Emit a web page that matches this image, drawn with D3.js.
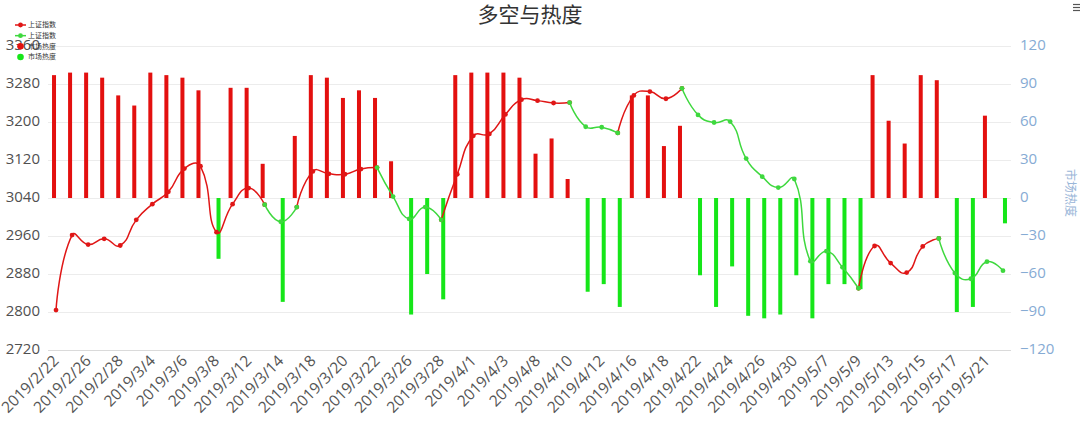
<!DOCTYPE html>
<html>
<head>
<meta charset="utf-8">
<script src="https://cdn.jsdelivr.net/npm/d3@7"></script>
<style>
  html, body { margin: 0; padding: 0; background: #fff; }
  svg { display: block; }
</style>
</head>
<body>
<svg id="chart" width="1080" height="425"></svg>
<script>
// ---------------- data ----------------
const dates = ["2019/2/22","2019/2/25","2019/2/26","2019/2/27","2019/2/28","2019/3/1","2019/3/4","2019/3/5","2019/3/6","2019/3/7",
  "2019/3/8","2019/3/11","2019/3/12","2019/3/13","2019/3/14","2019/3/15","2019/3/18","2019/3/19","2019/3/20","2019/3/21",
  "2019/3/22","2019/3/25","2019/3/26","2019/3/27","2019/3/28","2019/3/29","2019/4/1","2019/4/2","2019/4/3","2019/4/4",
  "2019/4/8","2019/4/9","2019/4/10","2019/4/11","2019/4/12","2019/4/15","2019/4/16","2019/4/17","2019/4/18","2019/4/19",
  "2019/4/22","2019/4/23","2019/4/24","2019/4/25","2019/4/26","2019/4/29","2019/4/30","2019/5/6","2019/5/7","2019/5/8",
  "2019/5/9","2019/5/10","2019/5/13","2019/5/14","2019/5/15","2019/5/16","2019/5/17","2019/5/20","2019/5/21","2019/5/22"];

// 上证指数 (red part / green part, null = gap)
const indexRed = [2804,2962,2942,2954,2940,2994,3027,3053,3102,3107,
  2968,3027,3061,3026,null,3021,3096,3091,3090,3101,
  3104,null,null,null,2994,3090,3171,3175,3216,3247,
  3245,3240,3241,null,null,3177,3256,3264,3249,3271,
  null,null,null,null,null,null,null,null,null,null,
  2850,2939,2903,2883,2938,2955,null,null,null,null];
const indexGreen = [null,null,null,null,null,null,null,null,null,null,
  null,null,null,3026,2990,3021,null,null,null,null,
  3104,3043,2996,3021,2994,null,null,null,null,null,
  null,null,3241,3190,3189,3177,null,null,null,3271,
  3215,3199,3201,3123,3085,3062,3080,2907,2928,2894,
  2850,null,null,null,null,2955,2882,2870,2906,2887];

// 市场热度 (positive = red bars, negative = green bars)
const heatUp = [97,99,99,95,81,73,99,97,95,85,
  null,87,87,27,null,49,97,95,79,85,
  79,29,null,null,null,97,99,99,99,95,
  35,47,15,null,null,null,81,81,41,57,
  null,null,null,null,null,null,null,null,null,null,
  null,97,61,43,97,93,null,null,65,null];
const heatDown = [null,null,null,null,null,null,null,null,null,null,
  -48,null,null,null,-82,null,null,null,null,null,
  null,null,-92,-60,-80,null,null,null,null,null,
  null,null,null,-74,-68,-86,null,null,null,null,
  -61,-86,-54,-93,-95,-92,-61,-95,-68,-68,
  -72,null,null,null,null,null,-90,-86,null,-20];

const leftTicks = [2720,2800,2880,2960,3040,3120,3200,3280,3360];
const rightTicks = [-120,-90,-60,-30,0,30,60,90,120];
const seriesNames = ["上证指数","上证指数","市场热度","市场热度"];
const titleText = "多空与热度";
const rightAxisName = "市场热度";

// ---------------- style ----------------
const RED = "#e3100f", GREEN = "#16e619";
const LINE_RED = "#e01616", LINE_GREEN = "#3ed83e";
const grid = {left: 48, right: 1011, top: 46, bottom: 350};
const FONT = "'Open Sans', 'DejaVu Sans', sans-serif";

const svg = d3.select("#chart");

const x = d3.scaleBand().domain(d3.range(dates.length)).range([grid.left, grid.right]).padding(0);
const xc = i => x(i) + x.bandwidth() / 2;
const xSub = d3.scaleBand().domain(["up","down"]).range([-4, 4]).padding(0);
const yL = d3.scaleLinear().domain([2720, 3360]).range([grid.bottom, grid.top]);
const yR = d3.scaleLinear().domain([-120, 120]).range([grid.bottom, grid.top]);

// grid lines
svg.append("g").selectAll("line").data(leftTicks).join("line")
  .attr("x1", grid.left).attr("x2", grid.right)
  .attr("y1", d => Math.round(yL(d)) + 0.5).attr("y2", d => Math.round(yL(d)) + 0.5)
  .attr("stroke", (d,i) => i === 0 ? "#dadada" : "#ececec").attr("stroke-width", 1);

// left axis labels
const axL = d3.axisLeft(yL).tickValues(leftTicks).tickSize(0).tickPadding(0).tickFormat(d3.format("d"));
const gL = svg.append("g").attr("transform", `translate(40,0)`).call(axL);
gL.select(".domain").remove();
gL.selectAll("text").attr("font-family", FONT).attr("font-size", 15).attr("fill", "#505050").attr("dy", "0.22em");

// right axis labels
const axR = d3.axisRight(yR).tickValues(rightTicks).tickSize(0).tickPadding(0)
  .tickFormat(d => d < 0 ? "\u2212" + Math.abs(d) : String(d));
const gR = svg.append("g").attr("transform", `translate(1020,0)`).call(axR);
gR.select(".domain").remove();
gR.selectAll("text").attr("font-family", FONT).attr("font-size", 15).attr("fill", "#86abd4").attr("dy", "0.22em");

// x axis labels
const axX = d3.axisBottom(x).tickValues(d3.range(0, dates.length, 2)).tickFormat(i => dates[i]).tickSize(0).tickPadding(0);
const gX = svg.append("g").attr("transform", `translate(0,${grid.bottom + 8})`).call(axX);
gX.select(".domain").remove();
gX.selectAll("text")
  .attr("font-family", FONT).attr("font-size", 15.5).attr("fill", "#555")
  .attr("text-anchor", "end").attr("y", 0).attr("dy", "0.35em")
  .attr("transform", "rotate(-45)");

// bars
const barsUp = svg.append("g");
barsUp.selectAll("rect").data(heatUp.map((v,i)=>({v,i})).filter(d => d.v != null)).join("rect")
  .attr("x", d => xc(d.i) + xSub("up")).attr("width", xSub.bandwidth())
  .attr("y", d => yR(d.v)).attr("height", d => yR(0) - yR(d.v))
  .attr("fill", RED);
const barsDown = svg.append("g");
barsDown.selectAll("rect").data(heatDown.map((v,i)=>({v,i})).filter(d => d.v != null)).join("rect")
  .attr("x", d => xc(d.i) + xSub("down")).attr("width", xSub.bandwidth())
  .attr("y", d => yR(0)).attr("height", d => yR(d.v) - yR(0))
  .attr("fill", GREEN);

// echarts-like smooth curve
function smoothCurve(bbox, smooth) {
  return function(context) {
    let pts = [];
    return {
      areaStart() {}, areaEnd() {},
      lineStart() { pts = []; },
      point(px, py) { pts.push([+px, +py]); },
      lineEnd() {
        const n = pts.length;
        if (!n) return;
        const clamp = p => [Math.min(Math.max(p[0], bbox[0]), bbox[2]), Math.min(Math.max(p[1], bbox[1]), bbox[3])];
        context.moveTo(pts[0][0], pts[0][1]);
        let cp0 = pts[0].slice();
        for (let i = 1; i < n; i++) {
          const p = pts[i], prev = pts[i-1], next = pts[i+1];
          let cp1, ratio = 0.5, v = null;
          if (!next) cp1 = p.slice();
          else {
            v = [next[0] - prev[0], next[1] - prev[1]];
            const l0 = Math.hypot(p[0]-prev[0], p[1]-prev[1]);
            const l1 = Math.hypot(p[0]-next[0], p[1]-next[1]);
            ratio = (l0 + l1) ? l1 / (l0 + l1) : 0.5;
            cp1 = [p[0] - v[0]*smooth*(1-ratio), p[1] - v[1]*smooth*(1-ratio)];
          }
          const a = clamp(cp0), b = clamp(cp1);
          context.bezierCurveTo(a[0], a[1], b[0], b[1], p[0], p[1]);
          if (v) cp0 = [p[0] + v[0]*smooth*ratio, p[1] + v[1]*smooth*ratio];
        }
      }
    };
  };
}

function drawLine(data, color) {
  const pts = data.map((v,i)=>({v,i})).filter(d => d.v != null);
  const bbox = [d3.min(pts, d => xc(d.i)), d3.min(pts, d => yL(d.v)), d3.max(pts, d => xc(d.i)), d3.max(pts, d => yL(d.v))];
  const line = d3.line().defined(d => d != null).x((d,i) => xc(i)).y(d => yL(d)).curve(smoothCurve(bbox, 0.5));
  const g = svg.append("g");
  g.append("path").attr("d", line(data)).attr("fill", "none").attr("stroke", color).attr("stroke-width", 1.5);
  g.selectAll("circle").data(pts).join("circle")
    .attr("cx", d => xc(d.i)).attr("cy", d => yL(d.v)).attr("r", 2.4).attr("fill", color);
}
drawLine(indexRed, LINE_RED);
drawLine(indexGreen, LINE_GREEN);

// title
svg.append("text").attr("x", 530).attr("y", 15).attr("dy", "0.35em").attr("text-anchor", "middle")
  .attr("font-family", "'Noto Sans CJK SC', sans-serif").attr("font-size", 21).attr("fill", "#333")
  .text(titleText);

// right axis name
svg.append("text").attr("transform", "translate(1066,193) rotate(90)")
  .attr("text-anchor", "middle").attr("font-family", "'Noto Sans CJK SC', sans-serif")
  .attr("font-size", 12).attr("fill", "#9ab6d8").text(rightAxisName);

// legend
const legendColors = [LINE_RED, LINE_GREEN, RED, GREEN];
const legendTypes = ["line", "line", "dot", "dot"];
const lg = svg.append("g");
const legendY = d3.scalePoint().domain(d3.range(4)).range([25, 57]);
seriesNames.forEach((name, i) => {
  const yy = legendY(i);
  if (legendTypes[i] === "line") {
    lg.append("line").attr("x1", 15).attr("x2", 26).attr("y1", yy).attr("y2", yy)
      .attr("stroke", legendColors[i]).attr("stroke-width", 1.5);
    lg.append("circle").attr("cx", 20.5).attr("cy", yy).attr("r", 2.4).attr("fill", legendColors[i]);
  } else {
    lg.append("circle").attr("cx", 20.5).attr("cy", yy).attr("r", 3.3).attr("fill", legendColors[i]);
  }
  lg.append("text").attr("x", 28).attr("y", yy).attr("dy", "0.35em")
    .attr("font-family", "'Noto Sans CJK SC', sans-serif").attr("font-size", 7).attr("fill", "#333").text(name);
});

// toolbox icon
const tb = svg.append("g").attr("stroke", "#555").attr("stroke-width", 1.2);
[4.5, 7.5, 10.5].forEach(yy => tb.append("line").attr("x1", 1073).attr("x2", 1080).attr("y1", yy).attr("y2", yy));
</script>
</body>
</html>
